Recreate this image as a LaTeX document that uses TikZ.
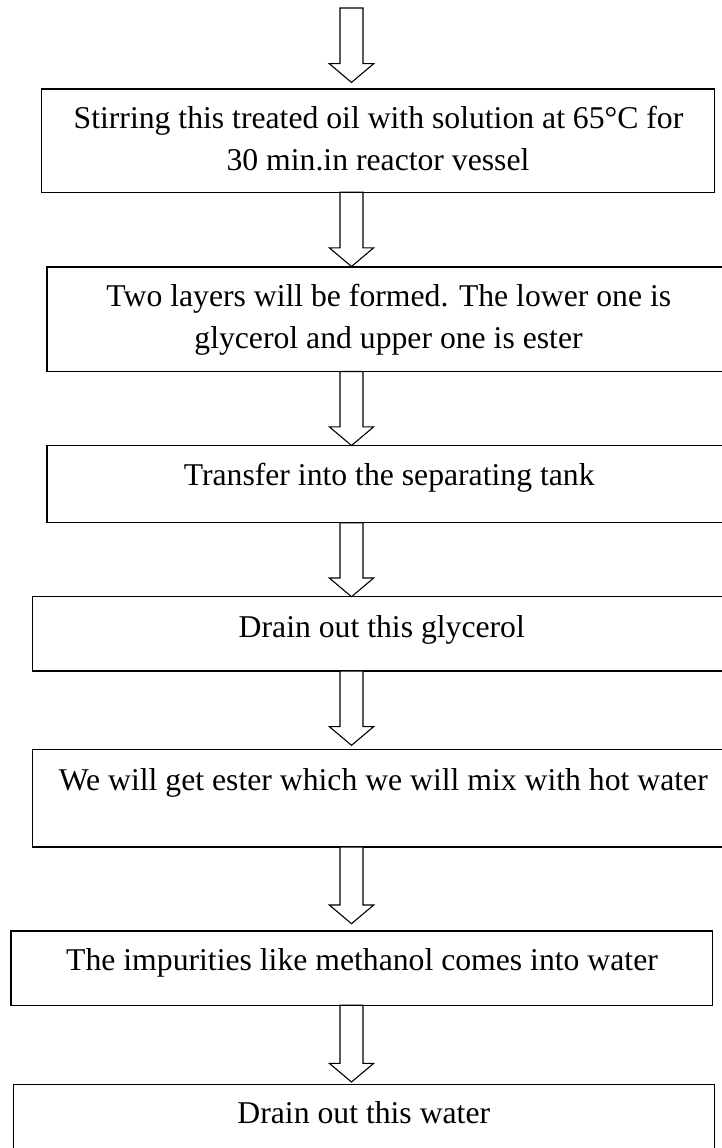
\documentclass[tikz,border=0pt]{standalone}
\usepackage{fontspec}
\setmainfont{Liberation Serif}
\usetikzlibrary{calc}
\tikzset{
  stepbox/.style={draw, line width=1.4pt, inner sep=0pt, outer sep=0pt, anchor=north west, rectangle},
  steptext/.style={anchor=base, inner sep=0pt, font=\fontsize{31.7}{41.5}\selectfont},
  blk/.style={draw, line width=1.1pt, fill=white, line join=miter},
}
\newcommand{\flowarrow}[3]{%
  \draw[blk] let \p1=(#1), \p2=(#2) in
    (340pt,\y1) -- (340pt,\y2+#3pt+18.7pt) -- (329.3pt,\y2+#3pt+18.7pt)
    -- (351.5pt,\y2+#3pt) -- (373.7pt,\y2+#3pt+18.7pt) -- (363pt,\y2+#3pt+18.7pt)
    -- (363pt,\y1) -- cycle;}
\begin{document}
\begin{tikzpicture}[x=1pt,y=-1pt]
  \path[use as bounding box, clip] (0,0) rectangle (722,1148);
  \fill[white] (0,0) rectangle (722,1148);

  % boxes
  \node[stepbox, minimum width=672.6pt, minimum height=103.2pt] (b1) at (41.7,89) {};
  \node[stepbox, minimum width=683pt, minimum height=104.5pt] (b2) at (47,267) {};
  \node[stepbox, minimum width=683pt, minimum height=77.2pt] (b3) at (47,445.5) {};
  \node[stepbox, minimum width=698.3pt, minimum height=74.3pt] (b4) at (32.7,596.7) {};
  \node[stepbox, minimum width=701.3pt, minimum height=97.3pt] (b5) at (32.7,749.7) {};
  \node[stepbox, minimum width=701.7pt, minimum height=74.2pt] (b6) at (11,931) {};
  \node[stepbox, minimum width=701pt, minimum height=100pt] (b7) at (13.3,1084.6) {};

  % arrows
  \coordinate (start) at (351.5,8);
  \flowarrow{start}{b1.north}{6.6}
  \flowarrow{b1.south}{b2.north}{0.5}
  \flowarrow{b2.south}{b3.north}{0}
  \flowarrow{b3.south}{b4.north}{0}
  \flowarrow{b4.south}{b5.north}{4.4}
  \flowarrow{b5.south}{b6.north}{7.3}
  \flowarrow{b6.south}{b7.north}{2.6}

  % texts
  \node[steptext] (t1a) at (378.5,128.8) {Stirring this treated oil with solution at 65°C for};
  \node[steptext] (t1b) at (378,170) {30 min.in reactor vessel};
  \node[steptext] (t2a) at (388.8,306.5) {Two layers will be formed. The lower one is};
  \node[steptext] (t2b) at (388.5,348) {glycerol and upper one is ester};
  \node[steptext] (t3) at (389.2,485) {Transfer into the separating tank};
  \node[steptext] (t4) at (381.8,637) {Drain out this glycerol};
  \node[steptext] (t5) at (383.3,790.5) {We will get ester which we will mix with hot water};
  \node[steptext] (t6) at (362,970) {The impurities like methanol comes into water};
  \node[steptext] (t7) at (363.8,1123) {Drain out this water};
\end{tikzpicture}
\end{document}
